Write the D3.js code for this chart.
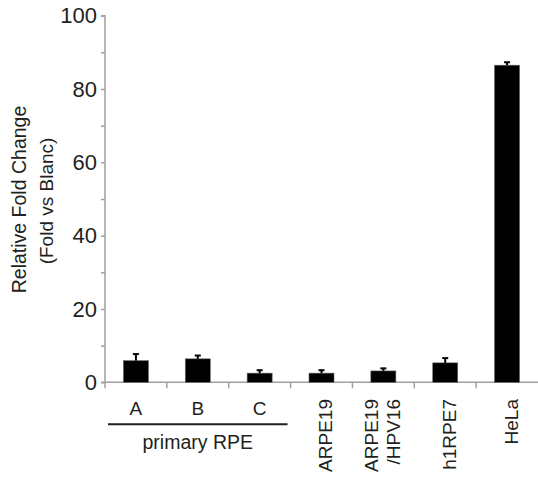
<!DOCTYPE html>
<html>
<head>
<meta charset="utf-8">
<script src="https://cdn.jsdelivr.net/npm/d3@7"></script>
<style>
  body { margin: 0; background: #fff; }
  text { font-family: "Liberation Sans", Arial, sans-serif; fill: #231f20; }
</style>
</head>
<body>
<svg id="grafico"></svg>
<script>
// dados
const categorias = ['A', 'B', 'C', 'ARPE19', 'ARPE19/HPV16', 'h1RPE7', 'HeLa'];
const valores = [5.9, 6.4, 2.5, 2.5, 3.1, 5.3, 86.5];
const erros = [1.8, 0.9, 0.8, 0.8, 0.7, 1.3, 0.8];
const ticksY = [0, 20, 40, 60, 80, 100];
const grupoPrimario = ['A', 'B', 'C'];

const largura = 538, altura = 479;
const margem = { esquerda: 105, direita: 0, superior: 15.7, inferior: 96.7 };
const larguraPlotagem = largura - margem.esquerda - margem.direita;
const alturaPlotagem = altura - margem.superior - margem.inferior;

const svg = d3.select('#grafico').attr('width', largura).attr('height', altura);
const plotagem = svg.append('g')
    .attr('transform', `translate(${margem.esquerda}, ${margem.superior})`);

// escalas
const x = d3.scaleBand().domain(categorias).range([0, larguraPlotagem]).paddingInner(0).paddingOuter(0);
const y = d3.scaleLinear().domain([0, 100]).range([alturaPlotagem, 0]);
const larguraBarra = 25;

// eixo Y com ticks menores
const eixoY = d3.axisLeft(y).tickValues(d3.range(0, 101, 10)).tickSize(4)
    .tickFormat(d => ticksY.includes(d) ? d : '');
const gY = plotagem.append('g').call(eixoY);
gY.select('.domain').attr('stroke', '#a0a0a0').attr('stroke-width', 1.5).attr('d', `M-4,${alturaPlotagem}H0V0H-4`);
gY.selectAll('.tick line').attr('stroke', '#a0a0a0').attr('stroke-width', 1.5);
gY.selectAll('.tick text').attr('x', -8).style('font-size', '22px')
    .style('font-family', '"Liberation Sans", Arial, sans-serif').attr('fill', '#231f20');

// eixo X: ticks nas fronteiras das bandas
const fronteiras = categorias.map(c => x(c));
const gX = plotagem.append('g').attr('transform', `translate(0, ${alturaPlotagem})`);
gX.append('line').attr('x1', 0).attr('x2', larguraPlotagem).attr('stroke', '#a0a0a0').attr('stroke-width', 1.5);
gX.selectAll('.marca').data(fronteiras).enter().append('line')
    .attr('x1', d => d).attr('x2', d => d).attr('y1', 0).attr('y2', 6)
    .attr('stroke', '#a0a0a0').attr('stroke-width', 1.5);

// barras
plotagem.selectAll('.barra').data(categorias).enter().append('rect')
    .attr('x', d => x(d) + (x.bandwidth() - larguraBarra) / 2)
    .attr('y', (d, i) => y(valores[i]))
    .attr('width', larguraBarra)
    .attr('height', (d, i) => alturaPlotagem - y(valores[i]))
    .attr('fill', '#000')
    .attr('stroke', '#666').attr('stroke-width', 0.6);

// barras de erro
const g = plotagem.selectAll('.erro').data(categorias).enter().append('g');
g.append('line')
    .attr('x1', d => x(d) + x.bandwidth() / 2).attr('x2', d => x(d) + x.bandwidth() / 2)
    .attr('y1', (d, i) => y(valores[i])).attr('y2', (d, i) => y(valores[i] + erros[i]))
    .attr('stroke', '#000').attr('stroke-width', 2);
g.append('line')
    .attr('x1', d => x(d) + x.bandwidth() / 2 - 3).attr('x2', d => x(d) + x.bandwidth() / 2 + 3)
    .attr('y1', (d, i) => y(valores[i] + erros[i])).attr('y2', (d, i) => y(valores[i] + erros[i]))
    .attr('stroke', '#000').attr('stroke-width', 2);

// rótulos das categorias
const rotulos = plotagem.append('g').attr('transform', `translate(0, ${alturaPlotagem})`);
categorias.forEach(c => {
  const cx = x(c) + x.bandwidth() / 2;
  if (grupoPrimario.includes(c)) {
    rotulos.append('text').attr('x', cx).attr('y', 32.7)
        .attr('text-anchor', 'middle').style('font-size', '19px').text(c);
  } else {
    const linhas = c === 'ARPE19/HPV16' ? ['ARPE19', '/HPV16'] : [c];
    linhas.forEach((t, k) => {
      const dx = linhas.length > 1 ? (k - 0.5) * 22 + 6 : 10.5;
      rotulos.append('text')
          .attr('transform', `translate(${cx + dx}, 16.7) rotate(-90)`)
          .attr('text-anchor', 'end').style('font-size', '19px').text(t);
    });
  }
});

// linha do grupo "primary RPE"
const inicioGrupo = x('A') + 3, fimGrupo = x('C') + x.bandwidth() - 3;
rotulos.append('line').attr('x1', inicioGrupo).attr('x2', fimGrupo)
    .attr('y1', 42).attr('y2', 42).attr('stroke', '#231f20').attr('stroke-width', 2);
rotulos.append('text').attr('x', (inicioGrupo + fimGrupo) / 2).attr('y', 66.7)
    .attr('text-anchor', 'middle').style('font-size', '19.5px').text('primary RPE');

// título do eixo Y
svg.append('text')
    .attr('transform', 'translate(25.5, 199.5) rotate(-90)')
    .attr('text-anchor', 'middle').style('font-size', '19.5px').text('Relative Fold Change');
svg.append('text')
    .attr('transform', 'translate(53, 201) rotate(-90)')
    .attr('text-anchor', 'middle').style('font-size', '19px').text('(Fold vs Blanc)');
</script>
</body>
</html>
